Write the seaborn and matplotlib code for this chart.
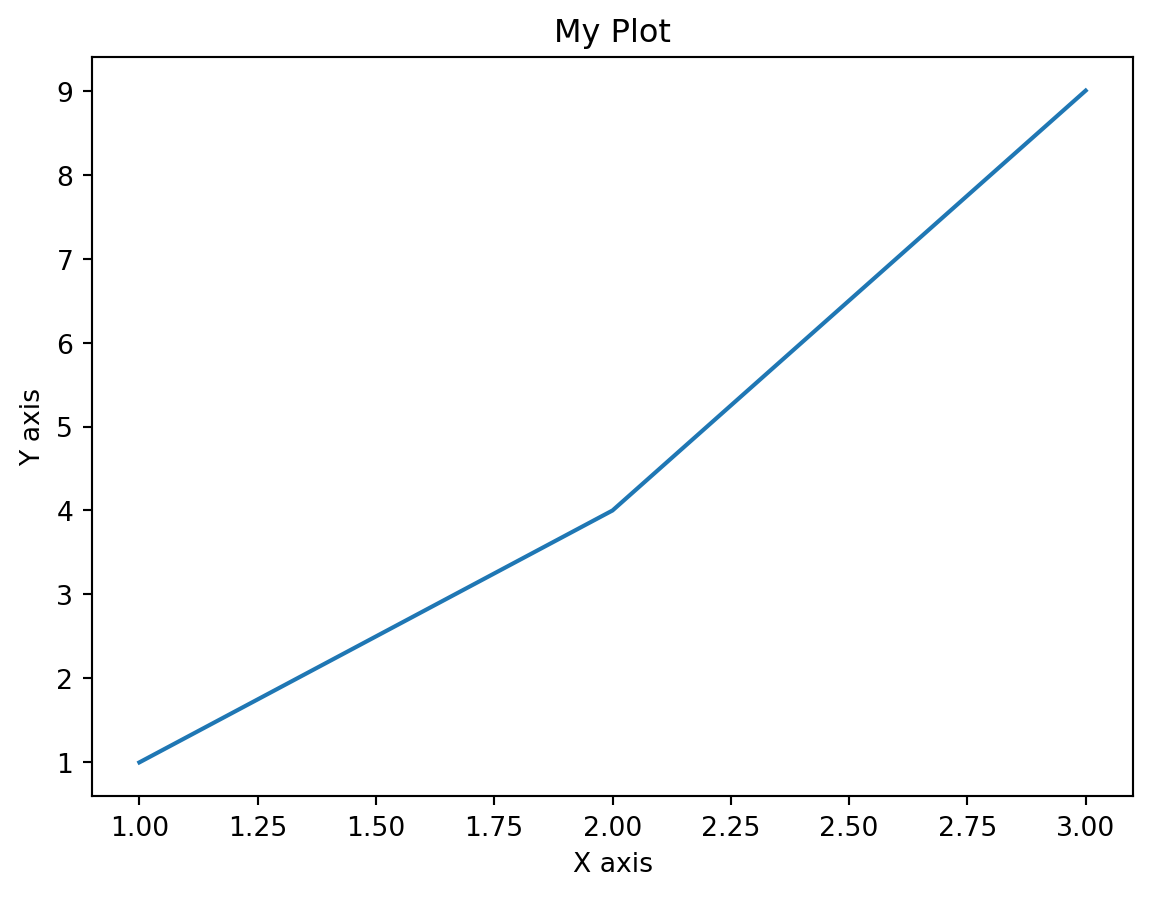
import matplotlib
matplotlib.use("Agg")
import matplotlib.pyplot as plt
import seaborn as sns

x_values = [1, 2, 3]
y_values = [1, 4, 9]

fig, ax = plt.subplots(figsize=(6.0, 4.677), dpi=192)
fig.subplots_adjust(left=0.0799, right=0.9835, top=0.9354, bottom=0.1125)

sns.lineplot(x=x_values, y=y_values, ax=ax, color="#1f77b4", linewidth=1.55)

ax.set_title("My Plot")
ax.set_xlabel("X axis")
ax.set_ylabel("Y axis")

fig.savefig("out.png", dpi=192)
